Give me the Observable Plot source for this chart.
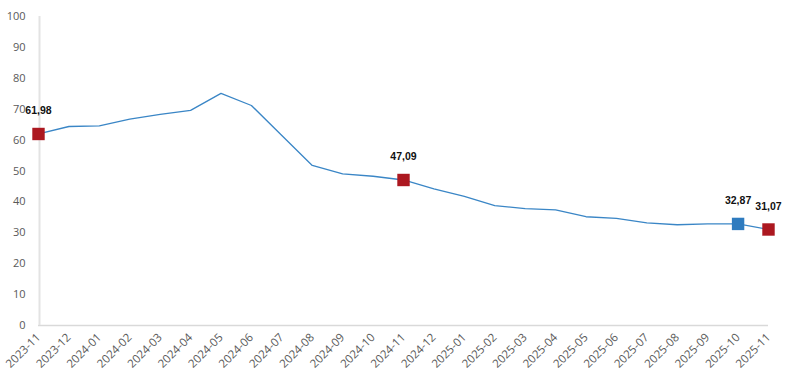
<!DOCTYPE html>
<html><head><meta charset="utf-8">
<script src="https://cdn.jsdelivr.net/npm/d3@7"></script>
<script src="https://cdn.jsdelivr.net/npm/@observablehq/plot@0.6"></script>
<style>body{margin:0;background:#fff;} svg{display:block;}</style>
</head><body><div id="chart"></div>
<script>
const months = ["2023-11","2023-12","2024-01","2024-02","2024-03","2024-04","2024-05","2024-06","2024-07","2024-08","2024-09","2024-10","2024-11","2024-12","2025-01","2025-02","2025-03","2025-04","2025-05","2025-06","2025-07","2025-08","2025-09","2025-10","2025-11"];
const values = [61.98,64.4,64.6,66.8,68.3,69.6,75.1,71.2,61.5,51.8,49.1,48.3,47.09,44.2,41.8,38.8,37.8,37.4,35.2,34.7,33.2,32.6,32.9,32.87,31.07];
const highlightMonths = ["2023-11","2024-11","2025-10","2025-11"];
const highlightKinds = ["previous","previous","last","previous"];
const yTicks = [0,10,20,30,40,50,60,70,80,90,100];

const data = months.map((m,i)=>({m, v: values[i]}));
const hl = highlightMonths.map((m,i)=>({m, v: values[months.indexOf(m)], k: highlightKinds[i]}));
const fmt = v => v.toFixed(2).replace(".", ",");

const chart = Plot.plot({
  width: 793, height: 384,
  marginLeft: 38, marginRight: 25, marginTop: 16, marginBottom: 59,
  style: {fontFamily: "'Open Sans', sans-serif", fontSize: "11px", color: "#595959", background: "#fff"},
  x: {type: "point", domain: months, padding: 0, round: false, label: null},
  y: {domain: [0,100], label: null},
  color: {domain: ["previous","last"], range: ["#ac1820","#2e7bbf"]},
  marks: [
    Plot.ruleY([0], {stroke: "#d9d9d9", strokeWidth: 1.5}),
    Plot.ruleX([months[0]], {stroke: "#e3e3e3", strokeWidth: 2, dx: 1}),
    Plot.axisY({ticks: yTicks, tickSize: 0, tickPadding: 13, fill: "#595959"}),
    Plot.axisX({tickSize: 0, tickRotate: -45, tickPadding: 10, fill: "#595959", fontSize: 11.5}),
    Plot.line(data, {x: "m", y: "v", stroke: "#3a86c6", strokeWidth: 1.3}),
    Plot.dot(hl, {x: "m", y: "v", symbol: "square", r: 7, fill: "k"}),
    Plot.text(hl, {x: "m", y: "v", text: d => fmt(d.v), dy: -23, fill: "#111", fontWeight: "bold", fontFamily: "'Liberation Sans', Arial, sans-serif", fontSize: 10.5})
  ]
});
document.getElementById("chart").appendChild(chart);
</script></body></html>
